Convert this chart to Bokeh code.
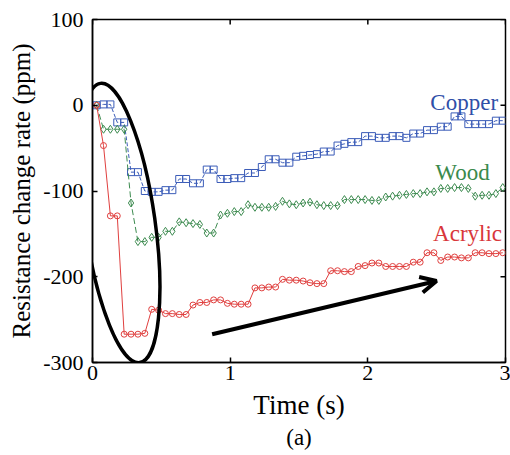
from bokeh.plotting import figure
from bokeh.models import FixedTicker, Range1d, Arrow, OpenHead, Label, Title
from bokeh.embed import file_html
from bokeh.resources import INLINE

# sampling times (s), one reading every 50 ms
time_s = [round(0.03 + 0.05 * i, 2) for i in range(60)]

copper = [0, 1, 1, -20, -20, -78, -78, -100, -101, -101,
          -99, -99, -86, -86, -91, -91, -75, -75, -86, -86,
          -85, -85, -79, -79, -72, -63, -63, -67, -67, -60,
          -59, -58, -57, -54, -54, -47, -45, -43, -43, -36,
          -36, -38, -38, -36, -36, -38, -33, -33, -29, -29,
          -25, -25, -13, -13, -22, -22, -22, -22, -18, -18]

wood = [0, -28, -28, -28, -28, -114, -159, -159, -154, -154,
        -147, -147, -136, -137, -138, -139, -149, -149, -128, -126,
        -124, -124, -116, -119, -119, -119, -118, -112, -115, -116,
        -114, -113, -116, -117, -117, -117, -110, -110, -110, -110,
        -111, -111, -107, -106, -105, -104, -103, -103, -101, -101,
        -97, -97, -96, -96, -97, -106, -105, -105, -103, -96]

acrylic = [0, -47, -129, -129, -267, -267, -267, -266, -238, -239,
           -243, -243, -244, -244, -233, -230, -230, -227, -227, -231,
           -232, -232, -232, -213, -213, -212, -212, -203, -204, -204,
           -205, -207, -208, -208, -193, -193, -194, -194, -188, -187,
           -184, -184, -188, -188, -188, -188, -183, -183, -172, -172,
           -181, -177, -177, -178, -178, -172, -172, -173, -173, -172]

x_ticks = [0, 1, 2, 3]
x_tick_labels = ["0", "1", "2", "3"]
y_ticks = [-300, -200, -100, 0, 100]
y_tick_labels = ["-300", "-200", "-100", "0", "100"]

X_MIN, X_MAX = 0, 3
Y_MIN, Y_MAX = -300, 100

FONT = "Liberation Serif"
BLUE, GREEN, RED = "#3b5cb8", "#3d8b50", "#e0403f"

p = figure(width=510, height=455, output_backend="svg", toolbar_location=None,
           x_range=Range1d(X_MIN, X_MAX), y_range=Range1d(Y_MIN, Y_MAX),
           min_border_left=92, min_border_right=5, min_border_top=19,
           min_border_bottom=93,
           x_axis_label="Time (s)", y_axis_label="Resistance change rate (ppm)")
p.grid.visible = False
p.outline_line_color = "black"
p.outline_line_width = 1.5
p.background_fill_color = "white"
p.border_fill_color = "white"


def style_axis(ax, ticks, labels):
    ax.ticker = FixedTicker(ticks=ticks)
    ax.major_label_overrides = {t: l for t, l in zip(ticks, labels)}
    ax.major_tick_in = 5
    ax.major_tick_out = 0
    ax.minor_tick_in = 0
    ax.minor_tick_out = 0
    ax.axis_line_width = 1.5
    ax.major_tick_line_width = 1.5
    ax.major_label_text_font = FONT
    ax.major_label_text_font_size = "22px"
    ax.major_label_text_color = "black"
    ax.axis_label_text_font = FONT
    ax.axis_label_text_font_style = "normal"
    ax.axis_label_text_color = "black"


style_axis(p.xaxis[0], x_ticks, x_tick_labels)
style_axis(p.yaxis[0], y_ticks, y_tick_labels)
p.xaxis[0].major_label_standoff = 3
p.xaxis[0].axis_label_standoff = 7
p.xaxis[0].axis_label_text_font_size = "27px"
p.yaxis[0].major_label_standoff = 9
p.yaxis[0].axis_label_standoff = 5
p.yaxis[0].axis_label_text_font_size = "25px"

# inward tick marks on the right and top edges of the box (5 px long)
tick_dx = 5 / 413 * (X_MAX - X_MIN)
tick_dy = 5 / 343 * (Y_MAX - Y_MIN)
p.segment(x0=[X_MAX] * len(y_ticks), y0=y_ticks,
          x1=[X_MAX - tick_dx] * len(y_ticks), y1=y_ticks,
          line_color="black", line_width=1.5)
p.segment(x0=x_ticks, y0=[Y_MAX] * len(x_ticks),
          x1=x_ticks, y1=[Y_MAX - tick_dy] * len(x_ticks),
          line_color="black", line_width=1.5)

# the three sensor records
p.line(time_s, copper, line_color=BLUE, line_width=1, line_dash="4 2")
p.scatter(time_s, copper, marker="square", size=7, line_color=BLUE,
          fill_alpha=0, line_width=1)
p.line(time_s, wood, line_color=GREEN, line_width=1, line_dash="6 3")
p.scatter(time_s, wood, marker="diamond", size=8, line_color=GREEN,
          fill_alpha=0, line_width=1)
p.line(time_s, acrylic, line_color=RED, line_width=1)
p.scatter(time_s, acrylic, marker="circle", size=6, line_color=RED,
          fill_alpha=0, line_width=1)

# series names
for txt, x, y, col in [("Copper", 2.454, 3.5, "#2f4fa8"),
                       ("Wood", 2.49, -78.4, "#3a8a4c"),
                       ("Acrylic", 2.474, -149.4, "#d9383b")]:
    p.add_layout(Label(x=x, y=y, text=txt, text_font=FONT, text_font_size="23px",
                       text_color=col, text_baseline="alphabetic", text_align="left"))

# ring round the initial drop
p.ellipse(x=[0.2], y=[-137.3], width=70, height=282, width_units="screen",
          height_units="screen", angle=0.14, fill_alpha=0, line_color="black",
          line_width=3.5)

# recovery trend arrow
p.add_layout(Arrow(end=OpenHead(size=16, line_width=4, line_color="black"),
                   x_start=0.869, y_start=-267, x_end=2.499, y_end=-205,
                   line_width=4, line_color="black"))

# panel tag under the time axis
p.add_layout(Title(text="(a)", align="center", text_font=FONT, text_font_size="23px",
                   text_font_style="normal", text_color="black", standoff=0), "below")

open("out.html", "w").write(file_html(p, INLINE))
